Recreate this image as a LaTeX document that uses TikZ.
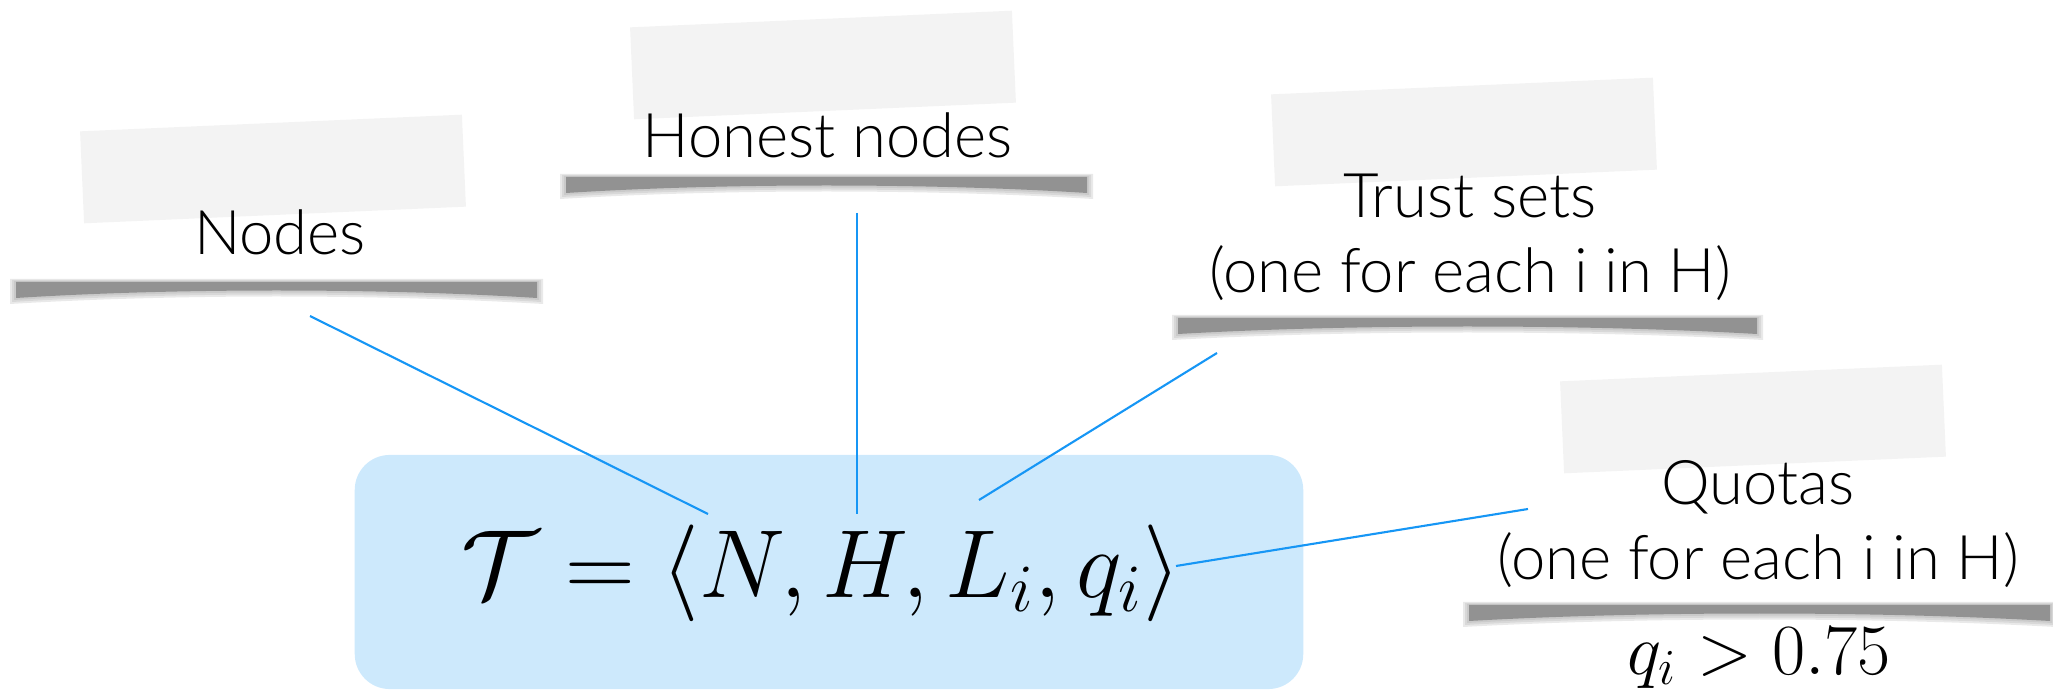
\RequirePackage{fix-cm}
\documentclass[tikz,border=0pt]{standalone}
\usepackage[no-math]{fontspec}
\setmainfont{Lato Light}

\definecolor{linkblue}{RGB}{22,150,245}
\definecolor{boxblue}{RGB}{205,233,252}
\definecolor{tapegray}{RGB}{243,243,243}
\definecolor{shadegray}{RGB}{146,146,146}

% curved shadow under a taped label: left x, right x, top y
\newcommand\tapeshadow[3]{%
  \foreach \g in {6,4,2}{
    \fill[shadegray,opacity=0.2] (#1-\g,#3-\g/2) -- (#2+\g,#3-\g/2) -- (#2+\g,#3+16+\g)
      .. controls ({#2-0.3*(#2-#1)},#3+6+\g) and ({#1+0.3*(#2-#1)},#3+6+\g) .. (#1-\g,#3+16+\g) -- cycle;
  }
  \fill[shadegray] (#1,#3) -- (#2,#3) -- (#2,#3+16)
    .. controls ({#2-0.3*(#2-#1)},#3+6) and ({#1+0.3*(#2-#1)},#3+6) .. (#1,#3+16) -- cycle;
}

\begin{document}
\begin{tikzpicture}[x=0.01cm,y=-0.01cm,
  tape/.style={fill=tapegray,rotate=2.5,minimum width=3.82cm,minimum height=0.92cm,inner sep=0pt},
  tag/.style={font=\fontsize{17.5}{21.5}\selectfont,align=center,inner sep=0pt,anchor=base},
  link/.style={draw=linkblue,line width=0.6pt}]
  \useasboundingbox (0,0) rectangle (2053,691);

  % formula box
  \node[fill=boxblue,rounded corners=0.35cm,minimum width=9.48cm,minimum height=2.34cm] (tuplebox) at (829,572) {};
  \node[font=\fontsize{27.5}{32}\selectfont,inner sep=0pt,anchor=base] (tuple) at (821,597) {$\mathcal{T} = \langle N, H, L_i, q_i \rangle$};

  % tapes and shadows
  \node[tape] (nodestape) at (273,169) {};
  \node[tape] (honesttape) at (823,65) {};
  \node[tape] (trusttape) at (1464,132) {};
  \node[tape] (quotatape) at (1753,419) {};
  \tapeshadow{16}{537}{282}
  \tapeshadow{566}{1087}{177}
  \tapeshadow{1178}{1757}{318}
  \tapeshadow{1469}{2050}{605}

  % labels
  \node[tag] (nodes) at (280,255) {Nodes};
  \node[tag] (honest) at (828,158) {Honest nodes};
  \node[tag] (trust) at (1470,293) {Trust sets\\(one for each i in H)};
  \node[tag] (quotas) at (1758,580) {Quotas\\(one for each i in H)};
  \node[font=\fontsize{20.5}{24}\selectfont,inner sep=0pt,anchor=base] (bound) at (1759,674) {$q_i > 0.75$};

  % connectors
  \coordinate (nodesfrom) at (310,316);
  \coordinate (honestfrom) at (857,213);
  \coordinate (trustfrom) at (1217,353);
  \coordinate (quotasfrom) at (1528,509);
  \coordinate (atN) at (708,514);
  \coordinate (atH) at (857,514);
  \coordinate (atL) at (979,500);
  \coordinate (atq) at (1176,566);
  \draw[link] (nodesfrom) -- (atN);
  \draw[link] (honestfrom) -- (atH);
  \draw[link] (trustfrom) -- (atL);
  \draw[link] (quotasfrom) -- (atq);
\end{tikzpicture}
\end{document}
